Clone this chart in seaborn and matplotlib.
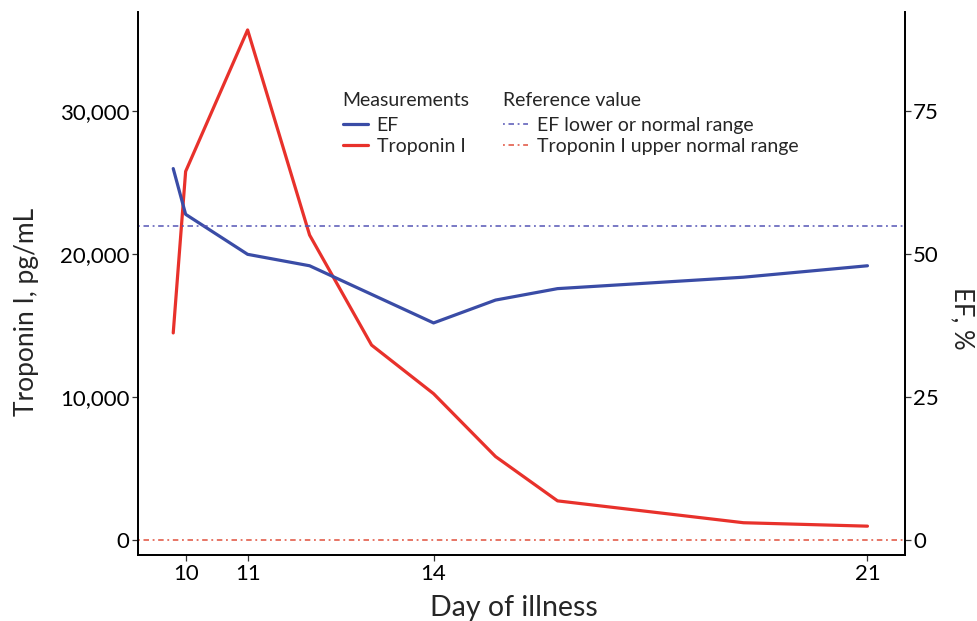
import seaborn as sns
import matplotlib.pyplot as plt
import matplotlib.ticker as mticker
from matplotlib.lines import Line2D
import pandas as pd

# troponin I measurements (pg/mL) by day of illness
trop_days = [9.8, 10, 11, 12, 13, 14, 15, 16, 19, 21]
trop_vals = [14500, 25800, 35700, 21350, 13650, 10250, 5850, 2750, 1220, 980]

# ejection fraction (%) by day of illness
ef_days = [9.8, 10, 11, 12, 14, 15, 16, 19, 21]
ef_vals = [65, 57, 50, 48, 38, 42, 44, 46, 48]

ef_ref = 55        # EF lower normal range (%)
trop_ref = 26      # troponin I upper normal range (pg/mL)
scale = 400        # troponin units per EF percent on the shared axis

x_ticks = [10, 11, 14, 21]

df_trop = pd.DataFrame({'day': trop_days, 'value': trop_vals})
df_ef = pd.DataFrame({'day': ef_days, 'value': ef_vals})

sns.set_style('white')
plt.rcParams['font.family'] = ['Lato', 'DejaVu Sans']

blue = '#3a4ca6'
red = '#e8312b'
blue_ref = '#5555b5'
red_ref = '#e0503c'

fig = plt.figure(figsize=(9.78, 6.21), dpi=100)
ax = fig.add_axes([0.141, 0.106, 0.784, 0.875])
ax2 = ax.twinx()

sns.lineplot(x='day', y='value', data=df_trop, ax=ax, color=red, lw=2.3)
sns.lineplot(x='day', y='value', data=df_ef, ax=ax2, color=blue, lw=2.3)

dd = (0, (1.2, 2.4, 3.6, 2.4))
ax2.axhline(ef_ref, color=blue_ref, lw=1.1, ls=dd)
ax.axhline(trop_ref, color=red_ref, lw=1.1, ls=dd)

ylo, yhi = -1050, 36970
ax.set_xlim(9.23, 21.6)
ax.set_ylim(ylo, yhi)
ax2.set_ylim(ylo / scale, yhi / scale)
ax2.set_zorder(ax.get_zorder() + 1)
ax2.patch.set_visible(False)

ax.set_xticks(x_ticks)
ax.set_yticks([0, 10000, 20000, 30000])
ax.yaxis.set_major_formatter(mticker.FuncFormatter(lambda v, p: f'{int(v):,}'))
ax2.set_yticks([0, 25, 50, 75])

for a in (ax, ax2):
    a.spines['top'].set_visible(False)
    for s in ('left', 'right', 'bottom'):
        a.spines[s].set_color('black')
        a.spines[s].set_linewidth(1.3)
    a.tick_params(axis='both', which='major', length=4, width=0.9,
                  color='#333333', labelsize=16, labelcolor='black',
                  direction='out', pad=2)
ax.tick_params(axis='y', left=True)
ax.tick_params(axis='x', bottom=True)
ax2.tick_params(axis='y', right=True)

ax.set_xlabel('Day of illness', fontsize=20.5, labelpad=8)
ax.set_ylabel('Troponin I, pg/mL', fontsize=19, labelpad=15)
ax2.set_ylabel('EF, %', fontsize=18.5, rotation=270, labelpad=26)
ax.xaxis.label.set_x(0.49)
ax.yaxis.label.set_y(0.447)
ax2.yaxis.label.set_y(0.435)
ax.grid(False)
ax2.grid(False)

h1 = [Line2D([], [], color=blue, lw=2.3), Line2D([], [], color=red, lw=2.3)]
leg1 = ax2.legend(h1, ['EF', 'Troponin I'], title='Measurements',
                  loc='upper left', bbox_to_anchor=(0.267, 0.853),
                  frameon=False, fontsize=14, title_fontsize=14,
                  handlelength=1.3, handletextpad=0.45, labelspacing=0.18,
                  borderaxespad=0, borderpad=0)
leg1._legend_box.align = 'left'
leg1._legend_box.sep = 6
ax2.add_artist(leg1)

h2 = [Line2D([], [], color=blue_ref, lw=1.1, ls=dd),
      Line2D([], [], color=red_ref, lw=1.1, ls=dd)]
leg2 = ax2.legend(h2, ['EF lower or normal range', 'Troponin I upper normal range'],
                  title='Reference value', loc='upper left',
                  bbox_to_anchor=(0.476, 0.853), frameon=False, fontsize=14,
                  title_fontsize=14, handlelength=1.3, handletextpad=0.45,
                  labelspacing=0.18, borderaxespad=0, borderpad=0)
leg2._legend_box.align = 'left'
leg2._legend_box.sep = 6

fig.savefig('out.png', dpi=100)
